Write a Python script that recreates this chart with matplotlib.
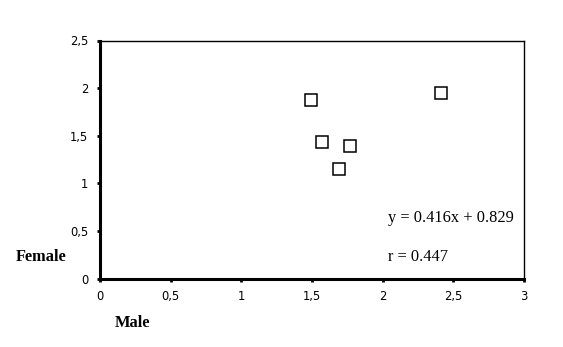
import matplotlib
matplotlib.use("Agg")
import matplotlib.pyplot as plt
from matplotlib.ticker import FuncFormatter

male = [1.49, 1.57, 1.77, 1.69, 2.41]
female = [1.87, 1.43, 1.39, 1.15, 1.945]
x_ticks = [0, 0.5, 1, 1.5, 2, 2.5, 3]
y_ticks = [0, 0.5, 1, 1.5, 2, 2.5]
eq_text = "y = 0.416x + 0.829"
r_text = "r = 0.447"


def comma(v, pos):
    s = ("%g" % v)
    return s.replace(".", ",")


fig = plt.figure(figsize=(5.63, 3.47), dpi=100)
ax = fig.add_axes([100 / 563, 68.5 / 347, 424 / 563, 238 / 347])

ax.plot(male, female, linestyle="none", marker="s", markersize=8.6,
        markerfacecolor="white", markeredgecolor="black", markeredgewidth=1.1)

ax.set_xlim(0, 3)
ax.set_ylim(0, 2.5)
ax.set_xticks(x_ticks)
ax.set_yticks(y_ticks)
ax.xaxis.set_major_formatter(FuncFormatter(comma))
ax.yaxis.set_major_formatter(FuncFormatter(comma))

for side in ["left", "bottom"]:
    ax.spines[side].set_linewidth(2.2)
for side in ["top", "right"]:
    ax.spines[side].set_linewidth(1.0)

ax.tick_params(direction="out", length=2.5, width=2, labelsize=8.3, pad=6,
               top=False, right=False)
for lab in ax.get_xticklabels() + ax.get_yticklabels():
    lab.set_family("DejaVu Sans")

ax.text(0.68, 0.255, eq_text, transform=ax.transAxes, fontsize=11.8,
        family="Liberation Serif", va="center")
ax.text(0.68, 0.09, r_text, transform=ax.transAxes, fontsize=11.8,
        family="Liberation Serif", va="center")

fig.text(16 / 563, 1 - 257 / 347, "Female", fontsize=11.8, fontweight="bold",
         family="Liberation Serif", va="center", ha="left")
fig.text(115 / 563, 1 - 323 / 347, "Male", fontsize=11.8, fontweight="bold",
         family="Liberation Serif", va="center", ha="left")

fig.savefig("out.png", dpi=100)
